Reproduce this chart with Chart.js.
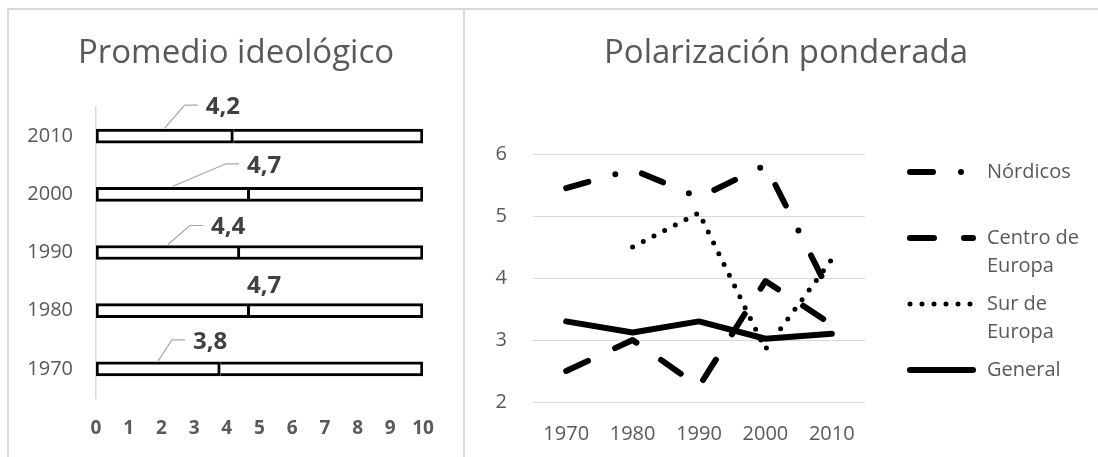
<!DOCTYPE html>
<html><head><meta charset="utf-8">
<script src="https://cdn.jsdelivr.net/npm/chart.js@4"></script>
<style>
html,body{margin:0;padding:0;background:#fff;overflow:hidden;width:1098px;height:457px;}
.fr{position:absolute;background:#d9d9d9;}
#w1{position:absolute;left:9px;top:10px;width:454px;height:447px;}
#w2{position:absolute;left:465px;top:10px;width:642px;height:447px;}
</style></head><body>
<div class="fr" style="left:7px;top:8px;width:1091px;height:2px"></div>
<div class="fr" style="left:7px;top:8px;width:2px;height:449px"></div>
<div class="fr" style="left:463px;top:8px;width:2px;height:449px"></div>
<div id="w1"><canvas id="c1" width="454" height="447"></canvas></div>
<div id="w2"><canvas id="c2" width="642" height="447"></canvas></div>
<script>
// ---------- data: left chart ----------
const decades = ['1970', '1980', '1990', '2000', '2010'];
const ideologyMean = [3.8, 4.7, 4.4, 4.7, 4.2];
const ideologyRest = [6.2, 5.3, 5.6, 5.3, 5.8];   // remainder up to 10
const scaleTicks = [0, 1, 2, 3, 4, 5, 6, 7, 8, 9, 10];
// label placement (value units / px), leader lines
const labelCentre = [3.49, 5.14, 4.04, 5.14, 3.88];
const labelRise = [27, 25, 25, 28.5, 29];
const hasLeader = [true, false, true, true, true];

// ---------- data: right chart ----------
const years = ['1970', '1980', '1990', '2000', '2010'];
const nordicos = [5.45, 5.75, 5.3, 5.82, 3.7];
const centro = [2.5, 3.0, 2.25, 3.95, 3.25];
const sur = [null, 4.5, 5.05, 2.85, 4.3];
const general = [3.3, 3.12, 3.3, 3.02, 3.1];
const seriesNames = [['Nórdicos'], ['Centro de', 'Europa'], ['Sur de', 'Europa'], ['General']];
const yTicks = [2, 3, 4, 5, 6];

const FONT = '"Open Sans", Lato, sans-serif';
const GREY = '#595959';

const titlePlugin = {
  id: 'ctitle',
  afterDraw(chart, args, opts) {
    const ctx = chart.ctx;
    ctx.save();
    ctx.font = '33px ' + FONT;
    ctx.fillStyle = GREY;
    ctx.textAlign = 'center';
    ctx.textBaseline = 'alphabetic';
    ctx.fillText(opts.text, chart.width / 2, opts.y);
    ctx.restore();
  }
};

const barLabels = {
  id: 'barLabels',
  afterDatasetsDraw(chart) {
    const ctx = chart.ctx;
    const xs = chart.scales.x;
    const meta = chart.getDatasetMeta(0);
    ctx.save();
    ctx.font = 'bold 24px ' + FONT;
    ctx.fillStyle = '#404040';
    ctx.textAlign = 'center';
    ctx.textBaseline = 'middle';
    meta.data.forEach((bar, i) => {
      const v = ideologyMean[i];
      const txt = v.toFixed(1).replace('.', ',');
      const cx = xs.getPixelForValue(labelCentre[i]);
      const cy = bar.y - labelRise[i];
      const w = ctx.measureText(txt).width;
      ctx.fillText(txt, cx, cy);
      if (hasLeader[i]) {
        const left = cx - w / 2;
        const ly = cy - 2;
        ctx.beginPath();
        ctx.strokeStyle = '#a6a6a6';
        ctx.lineWidth = 1.2;
        ctx.moveTo(xs.getPixelForValue(v / 2), bar.y - bar.height / 2 - 1);
        ctx.lineTo(left - 21, ly);
        ctx.lineTo(left - 8, ly);
        ctx.stroke();
      }
    });
    ctx.restore();
  }
};

new Chart(document.getElementById('c1'), {
  type: 'bar',
  data: {
    labels: decades,
    datasets: [
      { data: ideologyMean, backgroundColor: '#ffffff', borderColor: '#000000', borderWidth: 3, borderSkipped: false, barThickness: 14 },
      { data: ideologyRest, backgroundColor: '#ffffff', borderColor: '#000000', borderWidth: 3, borderSkipped: 'left', barThickness: 14 }
    ]
  },
  options: {
    indexAxis: 'y',
    responsive: false,
    animation: false,
    events: [],
    layout: { padding: { top: 97, right: 40, left: 0, bottom: 0 } },
    plugins: { legend: { display: false }, tooltip: { enabled: false }, title: { display: false },
      ctitle: { text: 'Promedio ideológico', y: 53 } },
    scales: {
      x: {
        stacked: true, min: 0, max: 10,
        afterBuildTicks: s => { s.ticks = scaleTicks.map(v => ({ value: v })); },
        afterFit: s => { s.height = 59; },
        grid: { display: false }, border: { display: false },
        ticks: { color: GREY, font: { family: FONT, size: 19, weight: 'bold' }, padding: 11, maxRotation: 0 }
      },
      y: {
        stacked: true, reverse: true,
        afterFit: s => { s.width = 87; },
        grid: { display: false, drawTicks: false },
        border: { display: true, color: '#d9d9d9', width: 1.5 },
        ticks: { color: GREY, font: { family: FONT, size: 20 }, padding: 23 }
      }
    }
  },
  plugins: [titlePlugin, barLabels]
});

const styles = [
  { borderDash: [23, 28, 0, 28], borderWidth: 6 },
  { borderDash: [24, 30], borderWidth: 6 },
  { borderDash: [0, 12], borderWidth: 5 },
  { borderDash: [], borderWidth: 6 }
];

const sideLegend = {
  id: 'sideLegend',
  afterDraw(chart) {
    const ctx = chart.ctx;
    const ca = chart.chartArea;
    ctx.save();
    ctx.font = '20px ' + FONT;
    ctx.fillStyle = GREY;
    ctx.textBaseline = 'middle';
    ctx.textAlign = 'left';
    chart.data.datasets.forEach((ds, i) => {
      const y = ca.top + 18 + 66 * i;
      const x0 = ca.right + 45;
      ctx.beginPath();
      ctx.strokeStyle = ds.borderColor;
      ctx.lineWidth = ds.borderWidth;
      ctx.lineCap = 'round';
      ctx.setLineDash(ds.borderDash);
      ctx.moveTo(x0, y);
      ctx.lineTo(x0 + 63, y);
      ctx.stroke();
      ctx.setLineDash([]);
      seriesNames[i].forEach((t, k) => ctx.fillText(t, ca.right + 122, y + 28 * k));
    });
    ctx.restore();
  }
};

const lineSets = [nordicos, centro, sur, general].map((d, i) => ({
  label: seriesNames[i].join(' '),
  data: d,
  borderColor: '#000000',
  borderWidth: styles[i].borderWidth,
  borderDash: styles[i].borderDash,
  borderCapStyle: 'round',
  borderJoinStyle: 'round',
  pointRadius: 0,
  tension: 0,
  fill: false,
  spanGaps: false
}));

new Chart(document.getElementById('c2'), {
  type: 'line',
  data: { labels: years, datasets: lineSets },
  options: {
    responsive: false,
    animation: false,
    events: [],
    layout: { padding: { top: 144, right: 242, left: 0, bottom: 0 } },
    plugins: { legend: { display: false }, tooltip: { enabled: false }, title: { display: false },
      ctitle: { text: 'Polarización ponderada', y: 53 } },
    scales: {
      x: {
        offset: true,
        afterFit: s => { s.height = 55; },
        grid: { display: false, drawTicks: false }, border: { display: false },
        ticks: { color: GREY, font: { family: FONT, size: 20 }, padding: 20, maxRotation: 0 }
      },
      y: {
        min: 2, max: 6,
        afterBuildTicks: s => { s.ticks = yTicks.map(v => ({ value: v })); },
        afterFit: s => { s.width = 68; },
        grid: { color: '#d9d9d9', lineWidth: 1, drawTicks: false },
        border: { display: false },
        ticks: { color: GREY, font: { family: FONT, size: 20 }, padding: 26 }
      }
    }
  },
  plugins: [titlePlugin, sideLegend]
});
</script>
</body></html>
